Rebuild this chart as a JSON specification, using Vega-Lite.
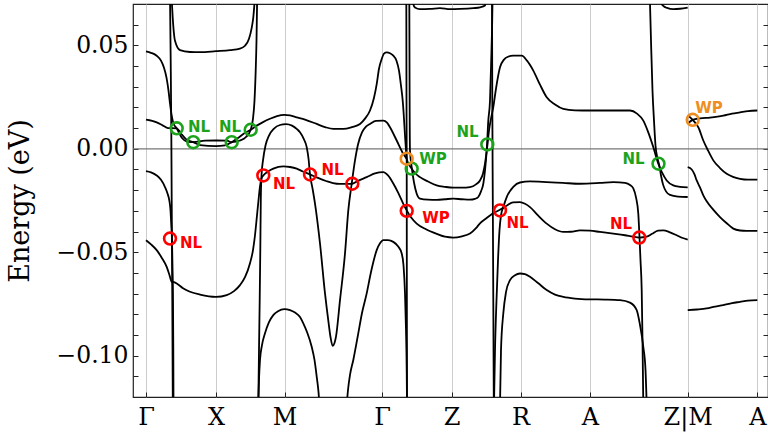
{
"$schema":"https://vega.github.io/schema/vega-lite/v6.json",
"width":635,"height":393,
"autosize":{"type":"none"},
"padding":{"left":133,"top":4,"right":0,"bottom":38},
"background":"white",
"config":{"view":{"stroke":"#222222","strokeWidth":1.2}},
"datasets":{
"bands":[
{"b":"u1","k":25.5,"e":0.0739},{"b":"u1","k":26.7,"e":0.0635},{"b":"u1","k":29,"e":0.0522},{"b":"u1","k":34,"e":0.0477},{"b":"u1","k":44,"e":0.0468},{"b":"u1","k":54,"e":0.0467},{"b":"u1","k":70,"e":0.0472},{"b":"u1","k":84,"e":0.0477},{"b":"u1","k":94,"e":0.0484},{"b":"u1","k":99,"e":0.0498},{"b":"u1","k":103,"e":0.0532},{"b":"u1","k":105.5,"e":0.058},{"b":"u1","k":107.3,"e":0.0635},{"b":"u1","k":109,"e":0.0739},
{"b":"sl1","k":24,"e":0.0739},{"b":"sl1","k":24.7,"e":0.0426},{"b":"sl1","k":25.3,"e":0.0088},{"b":"sl1","k":25.7,"e":-0.0249},{"b":"sl1","k":26.3,"e":-0.0732},{"b":"sl1","k":26.8,"e":-0.1238},
{"b":"a","k":0,"e":0.0471},{"b":"a","k":5,"e":0.0464},{"b":"a","k":10.7,"e":0.045},{"b":"a","k":15,"e":0.0426},{"b":"a","k":18,"e":0.0392},{"b":"a","k":20.5,"e":0.0344},{"b":"a","k":22.5,"e":0.0281},{"b":"a","k":24,"e":0.0219},{"b":"a","k":25.7,"e":0.016},{"b":"a","k":27.5,"e":0.0122},{"b":"a","k":30.7,"e":0.0099},{"b":"a","k":36,"e":0.0052},{"b":"a","k":41,"e":0.0035},{"b":"a","k":47.3,"e":0.0032},{"b":"a","k":59,"e":0.0039},{"b":"a","k":70,"e":0.004},{"b":"a","k":81,"e":0.0039},{"b":"a","k":85.7,"e":0.0032},{"b":"a","k":94,"e":0.004},{"b":"a","k":100,"e":0.0057},{"b":"a","k":104.7,"e":0.0092},{"b":"a","k":107,"e":0.0146},{"b":"a","k":108.5,"e":0.0233},{"b":"a","k":109.7,"e":0.0378},{"b":"a","k":110.5,"e":0.0522},{"b":"a","k":111.2,"e":0.0739},
{"b":"b","k":0,"e":0.0141},{"b":"b","k":10.7,"e":0.0128},{"b":"b","k":17,"e":0.0112},{"b":"b","k":22,"e":0.01},{"b":"b","k":26,"e":0.01},{"b":"b","k":30.7,"e":0.0099},{"b":"b","k":35,"e":0.0074},{"b":"b","k":40,"e":0.0047},{"b":"b","k":47.3,"e":0.0032},{"b":"b","k":54,"e":0.0018},{"b":"b","k":70,"e":0.0013},{"b":"b","k":79,"e":0.0016},{"b":"b","k":85.7,"e":0.0032},{"b":"b","k":92,"e":0.0052},{"b":"b","k":98,"e":0.0074},{"b":"b","k":104.7,"e":0.0092},{"b":"b","k":110.7,"e":0.0112},{"b":"b","k":117,"e":0.0129},{"b":"b","k":124,"e":0.0145},{"b":"b","k":131,"e":0.0158},{"b":"b","k":138.3,"e":0.0164},{"b":"b","k":144,"e":0.0161},{"b":"b","k":150.7,"e":0.0152},{"b":"b","k":159,"e":0.0141},{"b":"b","k":170.7,"e":0.012},{"b":"b","k":179,"e":0.0105},{"b":"b","k":187.3,"e":0.0096},{"b":"b","k":197.3,"e":0.0096},{"b":"b","k":206,"e":0.0105},{"b":"b","k":214,"e":0.012},{"b":"b","k":219,"e":0.0146},{"b":"b","k":224,"e":0.0185},{"b":"b","k":228,"e":0.0247},{"b":"b","k":230.7,"e":0.0313},{"b":"b","k":233,"e":0.0387},{"b":"b","k":235.7,"e":0.0434},{"b":"b","k":238,"e":0.046},{"b":"b","k":240.7,"e":0.0466},{"b":"b","k":244,"e":0.0462},{"b":"b","k":247.3,"e":0.045},{"b":"b","k":250.5,"e":0.0426},{"b":"b","k":253,"e":0.0378},{"b":"b","k":255,"e":0.0305},{"b":"b","k":256.7,"e":0.0233},{"b":"b","k":257.8,"e":0.016},{"b":"b","k":259,"e":0.0064},{"b":"b","k":260,"e":-0.0008},{"b":"b","k":260.7,"e":-0.0048},{"b":"b","k":263,"e":-0.0076},{"b":"b","k":265.7,"e":-0.0096},{"b":"b","k":269,"e":-0.0117},{"b":"b","k":274,"e":-0.0137},{"b":"b","k":282,"e":-0.0158},{"b":"b","k":290.7,"e":-0.0177},{"b":"b","k":299,"e":-0.0184},{"b":"b","k":307.3,"e":-0.0188},{"b":"b","k":316,"e":-0.0188},{"b":"b","k":324,"e":-0.0185},{"b":"b","k":330,"e":-0.0172},{"b":"b","k":334,"e":-0.0153},{"b":"b","k":337,"e":-0.0119},{"b":"b","k":339,"e":-0.0072},{"b":"b","k":340.5,"e":-0.0018},{"b":"b","k":341.5,"e":0.0021},{"b":"b","k":343,"e":0.0088},{"b":"b","k":345,"e":0.0146},{"b":"b","k":347.3,"e":0.0201},{"b":"b","k":350,"e":0.0291},{"b":"b","k":354,"e":0.0394},{"b":"b","k":358,"e":0.0431},{"b":"b","k":362,"e":0.0445},{"b":"b","k":367.3,"e":0.045},{"b":"b","k":375.7,"e":0.045},{"b":"b","k":381,"e":0.0426},{"b":"b","k":387.3,"e":0.0378},{"b":"b","k":394,"e":0.031},{"b":"b","k":400.7,"e":0.0249},{"b":"b","k":409,"e":0.0214},{"b":"b","k":417.3,"e":0.0193},{"b":"b","k":429,"e":0.0186},{"b":"b","k":444,"e":0.0185},{"b":"b","k":464,"e":0.0185},{"b":"b","k":484,"e":0.0185},{"b":"b","k":491,"e":0.017},{"b":"b","k":497.3,"e":0.0136},{"b":"b","k":502,"e":0.0083},{"b":"b","k":507.3,"e":0.0008},{"b":"b","k":512.3,"e":-0.0072},{"b":"b","k":516,"e":-0.0114},{"b":"b","k":520.7,"e":-0.0153},{"b":"b","k":527.3,"e":-0.0177},{"b":"b","k":534,"e":-0.0184},{"b":"b","k":541.7,"e":-0.0187},
{"b":"am","k":112.3,"e":-0.1238},{"b":"am","k":113,"e":-0.0973},{"b":"am","k":113.7,"e":-0.0732},{"b":"am","k":114.3,"e":-0.049},{"b":"am","k":114.8,"e":-0.0249},{"b":"am","k":115.5,"e":-0.0129},{"b":"am","k":117,"e":-0.0056},{"b":"am","k":119.5,"e":0.0016},{"b":"am","k":123,"e":0.0064},{"b":"am","k":128,"e":0.0098},{"b":"am","k":134,"e":0.0115},{"b":"am","k":140,"e":0.0119},{"b":"am","k":146,"e":0.0112},{"b":"am","k":151,"e":0.0095},{"b":"am","k":154,"e":0.008},{"b":"am","k":157.5,"e":0.005},{"b":"am","k":160.7,"e":0.0008},{"b":"am","k":162.5,"e":-0.0047},{"b":"am","k":164,"e":-0.0124},{"b":"am","k":166.5,"e":-0.0191},{"b":"am","k":169,"e":-0.0265},{"b":"am","k":174,"e":-0.0458},{"b":"am","k":179,"e":-0.0699},{"b":"am","k":182.5,"e":-0.0838},{"b":"am","k":184.5,"e":-0.091},{"b":"am","k":186.7,"e":-0.0953},{"b":"am","k":188.5,"e":-0.0939},{"b":"am","k":190,"e":-0.0908},{"b":"am","k":194,"e":-0.0732},{"b":"am","k":199,"e":-0.0506},{"b":"am","k":202.3,"e":-0.0298},{"b":"am","k":205.7,"e":-0.0169},{"b":"am","k":209,"e":-0.0056},{"b":"am","k":212,"e":0.0021},{"b":"am","k":216,"e":0.0079},{"b":"am","k":220,"e":0.0107},{"b":"am","k":224,"e":0.012},{"b":"am","k":230,"e":0.0135},{"b":"am","k":237.3,"e":0.0136},{"b":"am","k":241,"e":0.0127},{"b":"am","k":244,"e":0.0104},{"b":"am","k":250.7,"e":0.004},{"b":"am","k":257.3,"e":-0.0024},{"b":"am","k":260.7,"e":-0.0048},
{"b":"d","k":0,"e":-0.0442},{"b":"d","k":5,"e":-0.0462},{"b":"d","k":10.7,"e":-0.049},{"b":"d","k":16,"e":-0.0529},{"b":"d","k":20.7,"e":-0.0571},{"b":"d","k":23.5,"e":-0.0611},{"b":"d","k":25.7,"e":-0.0643},{"b":"d","k":28,"e":-0.0645},{"b":"d","k":30.7,"e":-0.0651},{"b":"d","k":37,"e":-0.0674},{"b":"d","k":44,"e":-0.0691},{"b":"d","k":54,"e":-0.0705},{"b":"d","k":70,"e":-0.0716},{"b":"d","k":80.7,"e":-0.0707},{"b":"d","k":88,"e":-0.0688},{"b":"d","k":94,"e":-0.0659},{"b":"d","k":99,"e":-0.0621},{"b":"d","k":104,"e":-0.0553},{"b":"d","k":107,"e":-0.049},{"b":"d","k":109,"e":-0.0418},{"b":"d","k":111,"e":-0.0322},{"b":"d","k":112.5,"e":-0.0249},{"b":"d","k":114,"e":-0.0182},{"b":"d","k":115.5,"e":-0.0143},{"b":"d","k":117.3,"e":-0.0129},{"b":"d","k":122,"e":-0.011},{"b":"d","k":127.3,"e":-0.0096},{"b":"d","k":137.3,"e":-0.0085},{"b":"d","k":144,"e":-0.0088},{"b":"d","k":150.7,"e":-0.0096},{"b":"d","k":157,"e":-0.011},{"b":"d","k":164,"e":-0.0124},{"b":"d","k":172,"e":-0.0141},{"b":"d","k":180.7,"e":-0.0157},{"b":"d","k":187,"e":-0.0166},{"b":"d","k":194,"e":-0.017},{"b":"d","k":200,"e":-0.017},{"b":"d","k":206.3,"e":-0.0169},{"b":"d","k":212,"e":-0.0155},{"b":"d","k":220.7,"e":-0.0137},{"b":"d","k":229,"e":-0.0119},{"b":"d","k":237.3,"e":-0.0113},{"b":"d","k":242,"e":-0.0129},{"b":"d","k":247.3,"e":-0.0168},{"b":"d","k":252,"e":-0.0211},{"b":"d","k":257.3,"e":-0.0266},{"b":"d","k":260.7,"e":-0.0298},{"b":"d","k":265,"e":-0.0331},{"b":"d","k":270.7,"e":-0.0362},{"b":"d","k":280,"e":-0.0389},{"b":"d","k":290.7,"e":-0.0411},{"b":"d","k":299,"e":-0.0425},{"b":"d","k":307.3,"e":-0.0429},{"b":"d","k":316,"e":-0.0423},{"b":"d","k":324,"e":-0.041},{"b":"d","k":330,"e":-0.0384},{"b":"d","k":334,"e":-0.036},{"b":"d","k":339,"e":-0.0341},{"b":"d","k":344,"e":-0.0322},{"b":"d","k":349,"e":-0.0307},{"b":"d","k":354,"e":-0.0295},{"b":"d","k":361,"e":-0.0274},{"b":"d","k":367,"e":-0.0259},{"b":"d","k":374,"e":-0.0258},{"b":"d","k":379,"e":-0.0266},{"b":"d","k":384,"e":-0.0282},{"b":"d","k":392,"e":-0.0322},{"b":"d","k":400.7,"e":-0.0362},{"b":"d","k":409,"e":-0.0389},{"b":"d","k":417.3,"e":-0.0402},{"b":"d","k":425,"e":-0.0401},{"b":"d","k":434,"e":-0.0394},{"b":"d","k":444,"e":-0.0396},{"b":"d","k":454,"e":-0.0402},{"b":"d","k":467.3,"e":-0.041},{"b":"d","k":479,"e":-0.0418},{"b":"d","k":487,"e":-0.0425},{"b":"d","k":493.3,"e":-0.0429},{"b":"d","k":500.7,"e":-0.0425},{"b":"d","k":506,"e":-0.0411},{"b":"d","k":512,"e":-0.0396},{"b":"d","k":517.3,"e":-0.0394},{"b":"d","k":524,"e":-0.0404},{"b":"d","k":530.7,"e":-0.0418},{"b":"d","k":536,"e":-0.043},{"b":"d","k":541.7,"e":-0.0439},
{"b":"c","k":0,"e":-0.0108},{"b":"c","k":5,"e":-0.0114},{"b":"c","k":10.7,"e":-0.0129},{"b":"c","k":15,"e":-0.015},{"b":"c","k":19,"e":-0.0185},{"b":"c","k":21.5,"e":-0.0216},{"b":"c","k":23.3,"e":-0.0249},{"b":"c","k":24.5,"e":-0.0298},{"b":"c","k":25.3,"e":-0.037},{"b":"c","k":26,"e":-0.0442},{"b":"c","k":26.5,"e":-0.0571},{"b":"c","k":27,"e":-0.0732},{"b":"c","k":27.3,"e":-0.0973},{"b":"c","k":27.5,"e":-0.1238},
{"b":"aM","k":112.3,"e":-0.1238},{"b":"aM","k":113,"e":-0.1117},{"b":"aM","k":114,"e":-0.1021},{"b":"aM","k":116,"e":-0.0949},{"b":"aM","k":119,"e":-0.0892},{"b":"aM","k":123,"e":-0.0838},{"b":"aM","k":127.3,"e":-0.0804},{"b":"aM","k":132,"e":-0.0785},{"b":"aM","k":138.3,"e":-0.0775},{"b":"aM","k":144,"e":-0.078},{"b":"aM","k":149,"e":-0.0792},{"b":"aM","k":154,"e":-0.0813},{"b":"aM","k":157.3,"e":-0.0844},{"b":"aM","k":161,"e":-0.0886},{"b":"aM","k":165.7,"e":-0.0957},{"b":"aM","k":168.5,"e":-0.1021},{"b":"aM","k":170.7,"e":-0.1101},{"b":"aM","k":172.5,"e":-0.1175},{"b":"aM","k":173.5,"e":-0.1238},
{"b":"aG","k":200.7,"e":-0.1238},{"b":"aG","k":202,"e":-0.1166},{"b":"aG","k":204,"e":-0.1093},{"b":"aG","k":207.3,"e":-0.1021},{"b":"aG","k":212,"e":-0.09},{"b":"aG","k":216,"e":-0.0794},{"b":"aG","k":220.7,"e":-0.0699},{"b":"aG","k":225,"e":-0.0596},{"b":"aG","k":230.7,"e":-0.049},{"b":"aG","k":234,"e":-0.0457},{"b":"aG","k":237.3,"e":-0.0442},{"b":"aG","k":242,"e":-0.0442},{"b":"aG","k":247.3,"e":-0.045},{"b":"aG","k":252,"e":-0.0471},{"b":"aG","k":255.7,"e":-0.0506},{"b":"aG","k":257.5,"e":-0.0563},{"b":"aG","k":259,"e":-0.0699},{"b":"aG","k":260,"e":-0.0876},{"b":"aG","k":260.7,"e":-0.1069},{"b":"aG","k":261,"e":-0.1238},
{"b":"sl3","k":260.3,"e":0.0739},{"b":"sl3","k":260.5,"e":0.0233},{"b":"sl3","k":260.7,"e":-0.0048},{"b":"sl3","k":260.8,"e":-0.049},{"b":"sl3","k":261,"e":-0.1238},
{"b":"ui","k":263.3,"e":0.0739},{"b":"ui","k":263.5,"e":0.0426},{"b":"ui","k":263.7,"e":0.0136},{"b":"ui","k":264,"e":-0.0008},{"b":"ui","k":265.7,"e":-0.0089},{"b":"ui","k":268,"e":-0.0163},{"b":"ui","k":270.7,"e":-0.0217},{"b":"ui","k":274,"e":-0.0241},{"b":"ui","k":282,"e":-0.0246},{"b":"ui","k":290.7,"e":-0.0247},{"b":"ui","k":299,"e":-0.0244},{"b":"ui","k":307.3,"e":-0.0241},{"b":"ui","k":316,"e":-0.0244},{"b":"ui","k":324,"e":-0.0246},{"b":"ui","k":329,"e":-0.0242},{"b":"ui","k":332.3,"e":-0.0233},{"b":"ui","k":335,"e":-0.0206},{"b":"ui","k":337.3,"e":-0.0169},{"b":"ui","k":339,"e":-0.0105},{"b":"ui","k":340.7,"e":-0.0008},{"b":"ui","k":342.3,"e":0.0136},{"b":"ui","k":344,"e":0.0233},{"b":"ui","k":345.2,"e":0.0426},{"b":"ui","k":346.2,"e":0.0619},{"b":"ui","k":346.6,"e":0.0739},
{"b":"sl4","k":346,"e":0.0739},{"b":"sl4","k":346.3,"e":0.0233},{"b":"sl4","k":346.8,"e":-0.0249},{"b":"sl4","k":347.3,"e":-0.0732},{"b":"sl4","k":347.8,"e":-0.1238},
{"b":"t1","k":266.5,"e":0.0739},{"b":"t1","k":267.3,"e":0.0699},{"b":"t1","k":269,"e":0.0683},{"b":"t1","k":274,"e":0.0675},{"b":"t1","k":284,"e":0.0676},{"b":"t1","k":294,"e":0.068},{"b":"t1","k":304,"e":0.0675},{"b":"t1","k":314,"e":0.0676},{"b":"t1","k":327.3,"e":0.068},{"b":"t1","k":334,"e":0.0684},{"b":"t1","k":339,"e":0.0693},{"b":"t1","k":341,"e":0.0739},
{"b":"aU","k":348,"e":-0.1238},{"b":"aU","k":349,"e":-0.0973},{"b":"aU","k":350.5,"e":-0.0732},{"b":"aU","k":352,"e":-0.0539},{"b":"aU","k":353.5,"e":-0.0394},{"b":"aU","k":355,"e":-0.0322},{"b":"aU","k":357.3,"e":-0.0282},{"b":"aU","k":361,"e":-0.023},{"b":"aU","k":367.3,"e":-0.0184},{"b":"aU","k":374,"e":-0.0163},{"b":"aU","k":384,"e":-0.0158},{"b":"aU","k":400.7,"e":-0.0161},{"b":"aU","k":417,"e":-0.0165},{"b":"aU","k":434,"e":-0.0169},{"b":"aU","k":454,"e":-0.0165},{"b":"aU","k":467.3,"e":-0.0161},{"b":"aU","k":479,"e":-0.0165},{"b":"aU","k":484,"e":-0.0175},{"b":"aU","k":487.3,"e":-0.0191},{"b":"aU","k":490,"e":-0.0235},{"b":"aU","k":492.3,"e":-0.0314},{"b":"aU","k":493.5,"e":-0.0428},{"b":"aU","k":494.5,"e":-0.0539},{"b":"aU","k":495.7,"e":-0.0683},{"b":"aU","k":496.5,"e":-0.0924},{"b":"aU","k":497.3,"e":-0.1238},
{"b":"aL","k":354,"e":-0.1238},{"b":"aL","k":355,"e":-0.0973},{"b":"aL","k":357.3,"e":-0.0796},{"b":"aL","k":360,"e":-0.0693},{"b":"aL","k":364,"e":-0.0635},{"b":"aL","k":369,"e":-0.0611},{"b":"aL","k":374,"e":-0.0603},{"b":"aL","k":379,"e":-0.0606},{"b":"aL","k":384,"e":-0.0619},{"b":"aL","k":392,"e":-0.0649},{"b":"aL","k":400.7,"e":-0.0683},{"b":"aL","k":409,"e":-0.0705},{"b":"aL","k":417.3,"e":-0.0716},{"b":"aL","k":429,"e":-0.0724},{"b":"aL","k":444,"e":-0.0728},{"b":"aL","k":459,"e":-0.0729},{"b":"aL","k":474,"e":-0.0732},{"b":"aL","k":484,"e":-0.0744},{"b":"aL","k":490.7,"e":-0.078},{"b":"aL","k":494,"e":-0.0852},{"b":"aL","k":497.3,"e":-0.0957},{"b":"aL","k":499.5,"e":-0.1069},{"b":"aL","k":500.7,"e":-0.1238},
{"b":"sl5","k":503.8,"e":0.0739},{"b":"sl5","k":505,"e":0.0522},{"b":"sl5","k":506.5,"e":0.0281},{"b":"sl5","k":508,"e":0.0136},{"b":"sl5","k":509.5,"e":0.0016},{"b":"sl5","k":511.5,"e":-0.0047},{"b":"sl5","k":513.3,"e":-0.008},{"b":"sl5","k":515,"e":-0.0129},{"b":"sl5","k":517,"e":-0.0172},{"b":"sl5","k":520,"e":-0.0206},{"b":"sl5","k":524,"e":-0.0223},{"b":"sl5","k":532,"e":-0.0231},{"b":"sl5","k":541.7,"e":-0.0233},
{"b":"t2","k":513,"e":0.0739},{"b":"t2","k":515.7,"e":0.0699},{"b":"t2","k":518,"e":0.0688},{"b":"t2","k":521,"e":0.0681},{"b":"t2","k":527.3,"e":0.0675},{"b":"t2","k":534,"e":0.0677},{"b":"t2","k":541.7,"e":0.0683},
{"b":"m1","k":541.7,"e":0.0163},{"b":"m1","k":546.7,"e":0.014},{"b":"m1","k":549.5,"e":0.0124},{"b":"m1","k":552.3,"e":0.0104},{"b":"m1","k":557.3,"e":0.004},{"b":"m1","k":562,"e":-0.0008},{"b":"m1","k":567.3,"e":-0.0056},{"b":"m1","k":574,"e":-0.0093},{"b":"m1","k":580.7,"e":-0.0121},{"b":"m1","k":587,"e":-0.0136},{"b":"m1","k":594,"e":-0.0145},{"b":"m1","k":602,"e":-0.0149},{"b":"m1","k":611.3,"e":-0.0149},
{"b":"m2","k":541.7,"e":0.0122},{"b":"m2","k":546.7,"e":0.014},{"b":"m2","k":554,"e":0.0147},{"b":"m2","k":564,"e":0.0151},{"b":"m2","k":577.3,"e":0.016},{"b":"m2","k":586,"e":0.017},{"b":"m2","k":594,"e":0.0176},{"b":"m2","k":602,"e":0.0182},{"b":"m2","k":611.3,"e":0.0185},
{"b":"m3","k":541.7,"e":-0.0089},{"b":"m3","k":545.7,"e":-0.01},{"b":"m3","k":548.5,"e":-0.0124},{"b":"m3","k":550.7,"e":-0.0153},{"b":"m3","k":554,"e":-0.0187},{"b":"m3","k":557.3,"e":-0.0225},{"b":"m3","k":560.7,"e":-0.0254},{"b":"m3","k":567,"e":-0.0293},{"b":"m3","k":574,"e":-0.033},{"b":"m3","k":580.7,"e":-0.036},{"b":"m3","k":587.3,"e":-0.0386},{"b":"m3","k":594,"e":-0.0395},{"b":"m3","k":600.7,"e":-0.0397},{"b":"m3","k":611.3,"e":-0.0397},
{"b":"m4","k":541.7,"e":-0.078},{"b":"m4","k":551,"e":-0.0777},{"b":"m4","k":560.7,"e":-0.0772},{"b":"m4","k":569,"e":-0.0763},{"b":"m4","k":577.3,"e":-0.0756},{"b":"m4","k":586,"e":-0.0746},{"b":"m4","k":594,"e":-0.074},{"b":"m4","k":602,"e":-0.0734},{"b":"m4","k":611.3,"e":-0.0732}
],
"pts":[
{"k":30.7,"e":0.0099,"c":"#1ca31c"},{"k":47.3,"e":0.0032,"c":"#1ca31c"},{"k":85.7,"e":0.0032,"c":"#1ca31c"},{"k":104.7,"e":0.0092,"c":"#1ca31c"},{"k":341.3,"e":0.0021,"c":"#1ca31c"},{"k":512.5,"e":-0.0072,"c":"#1ca31c"},{"k":265.7,"e":-0.0096,"c":"#1ca31c"},
{"k":24,"e":-0.0434,"c":"#ff0000"},{"k":117.3,"e":-0.0129,"c":"#ff0000"},{"k":164,"e":-0.0124,"c":"#ff0000"},{"k":206.3,"e":-0.0169,"c":"#ff0000"},{"k":354,"e":-0.0298,"c":"#ff0000"},{"k":493.3,"e":-0.0429,"c":"#ff0000"},{"k":260.7,"e":-0.03,"c":"#ff0000"},
{"k":260.7,"e":-0.0048,"c":"#ee8e22"},{"k":546.7,"e":0.014,"c":"#ee8e22"}
],
"labs":[
{"t":"NL","k":53,"e":0.0108,"c":"#1ca31c"},{"t":"NL","k":84,"e":0.0108,"c":"#1ca31c"},{"t":"NL","k":45,"e":-0.0454,"c":"#ff0000"},{"t":"NL","k":138,"e":-0.0169,"c":"#ff0000"},{"t":"NL","k":186.5,"e":-0.01,"c":"#ff0000"},{"t":"WP","k":287,"e":-0.0048,"c":"#1ca31c"},{"t":"WP","k":290,"e":-0.0334,"c":"#ff0000"},{"t":"NL","k":321.5,"e":0.0083,"c":"#1ca31c"},{"t":"NL","k":371.5,"e":-0.0358,"c":"#ff0000"},{"t":"NL","k":487.5,"e":-0.0047,"c":"#1ca31c"},{"t":"NL","k":475,"e":-0.0361,"c":"#ff0000"},{"t":"WP","k":563,"e":0.0201,"c":"#ee8e22"}
],
"zero":[{"e":0}]
},
"resolve":{"axis":{"y":"independent"}},
"layer":[
{"data":{"name":"zero"},"mark":{"type":"rule","color":"#777777","strokeWidth":1.3},
 "encoding":{"y":{"field":"e","type":"quantitative","scale":{"domain":[-0.12,0.07],"nice":false,"zero":false},
  "axis":{"orient":"right","values":[-0.12,-0.11,-0.1,-0.09,-0.08,-0.07,-0.06,-0.05,-0.04,-0.03,-0.02,-0.01,0,0.01,0.02,0.03,0.04,0.05,0.06,0.07],"labels":false,"title":null,"grid":false,"domain":false,"tickSize":-5,"tickColor":"#222222","tickWidth":1}}}},
{"data":{"name":"bands"},"mark":{"type":"line","color":"black","strokeWidth":1.8,"clip":true,"interpolate":"monotone"},
 "encoding":{
  "x":{"field":"k","type":"quantitative","scale":{"domain":[-13,622],"nice":false,"zero":false},
   "axis":{"values":[0,70,138.5,236,305.5,374.5,444,541.7,611.3],"labelExpr":"datum.value < 35 ? 'Γ' : datum.value < 100 ? 'X' : datum.value < 180 ? 'M' : datum.value < 270 ? 'Γ' : datum.value < 340 ? 'Z' : datum.value < 410 ? 'R' : datum.value < 490 ? 'A' : datum.value < 580 ? 'Z|M' : 'A'","title":null,"grid":true,"gridColor":"#cccccc","gridWidth":1,"domain":false,"tickSize":-5,"tickColor":"#222222","labelFont":"DejaVu Serif","labelFontSize":24,"labelColor":"black","labelPadding":13,"labelFlush":false}},
  "y":{"field":"e","type":"quantitative","scale":{"domain":[-0.12,0.07],"nice":false,"zero":false},
   "axis":{"values":[-0.12,-0.11,-0.1,-0.09,-0.08,-0.07,-0.06,-0.05,-0.04,-0.03,-0.02,-0.01,0,0.01,0.02,0.03,0.04,0.05,0.06,0.07],"labelExpr":"abs(round(datum.value*100)) % 5 === 0 ? format(datum.value, '.2f') : ''","title":"Energy (eV)","titleFont":"DejaVu Serif","titleFontSize":27,"titleFontWeight":"normal","titleColor":"black","titlePadding":21,"grid":false,"domain":false,"tickSize":-5,"tickColor":"#222222","labelFont":"DejaVu Serif","labelFontSize":23.5,"labelColor":"black","labelPadding":10,"labelFlush":false}},
  "detail":{"field":"b","type":"nominal"}}},
{"data":{"name":"pts"},"mark":{"type":"point","shape":"circle","filled":false,"size":140,"strokeWidth":2.6,"opacity":1},
 "encoding":{"x":{"field":"k","type":"quantitative"},"y":{"field":"e","type":"quantitative","axis":null},"color":{"field":"c","type":"nominal","scale":null}}},
{"data":{"name":"labs"},"mark":{"type":"text","font":"DejaVu Sans","fontWeight":"bold","fontSize":15,"align":"center","baseline":"alphabetic","dy":5.5},
 "encoding":{"x":{"field":"k","type":"quantitative"},"y":{"field":"e","type":"quantitative","axis":null},"text":{"field":"t"},"color":{"field":"c","type":"nominal","scale":null}}}
]
}
